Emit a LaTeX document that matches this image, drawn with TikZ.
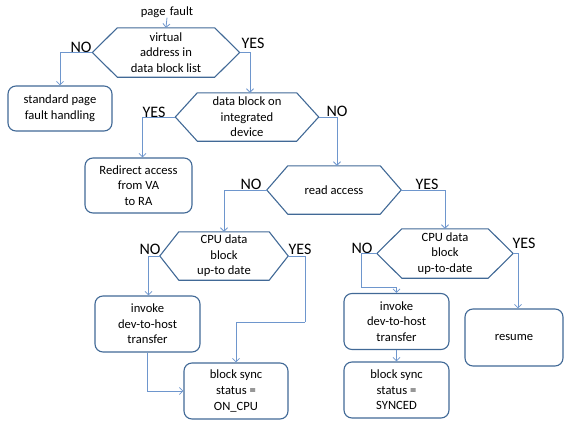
\documentclass[tikz,border=0pt]{standalone}
\usepackage{fontspec}
\setmainfont{Carlito}
\usetikzlibrary{arrows.meta}
\definecolor{hexblue}{RGB}{65,105,150}
\definecolor{linkblue}{RGB}{110,150,205}
\tikzset{
  txt/.style={font=\fontsize{12.6}{15.6}\selectfont, align=center, inner sep=0pt},
  boxnode/.style={txt, draw=hexblue, line width=1.1pt, rounded corners=8pt},
  yn/.style={font=\fontsize{16}{18}\selectfont, inner sep=0pt},
  link/.style={draw=linkblue, line width=0.8pt, -{Straight Barb[length=3.5pt,width=7pt]}},
  plain/.style={draw=linkblue, line width=0.8pt},
  hexline/.style={draw=hexblue, line width=1.1pt, line join=miter}
}
\newcommand{\hexdraw}[2]{%
  \draw[hexline] (#1.west) -- ([xshift=#2pt]#1.west |- #1.north) -- ([xshift=-#2pt]#1.east |- #1.north) -- (#1.east) -- ([xshift=-#2pt]#1.east |- #1.south) -- ([xshift=#2pt]#1.west |- #1.south) -- cycle;}
\begin{document}
\begin{tikzpicture}[x=1pt,y=-1pt]
\useasboundingbox (0,0) rectangle (566,421);
% title
\node[txt] (pf) at (167,12) {page\,\,fault};
% hexagons
\node[txt, minimum width=147pt, minimum height=49pt] (h1) at (166,52.5) {virtual\\address in\\data block list};
\node[txt, minimum width=143pt, minimum height=48pt] (h2) at (247,117) {data block on\\integrated\\device};
\node[txt, minimum width=134pt, minimum height=48pt] (h3) at (334,190) {read access};
\node[txt, minimum width=128pt, minimum height=48pt] (h4) at (224,256) {CPU data\\block\\up-to date};
\node[txt, minimum width=136pt, minimum height=49pt] (h5) at (445,253.5) {CPU data\\block\\up-to-date};
\hexdraw{h1}{25}
\hexdraw{h2}{22}
\hexdraw{h3}{21}
\hexdraw{h4}{19}
\hexdraw{h5}{25}
% boxes
\node[boxnode, minimum width=104pt, minimum height=45pt] (std) at (60,108.5) {standard page\\fault handling};
\node[boxnode, minimum width=107pt, minimum height=55pt] (red) at (138.5,185.5) {Redirect access\\from VA\\to RA};
\node[boxnode, minimum width=105pt, minimum height=56pt] (inv1) at (147.5,324) {invoke\\dev-to-host\\transfer};
\node[boxnode, minimum width=104pt, minimum height=56pt] (sync1) at (236,391) {block sync\\status =\\ON\_CPU};
\node[boxnode, minimum width=105pt, minimum height=56pt] (inv2) at (396.5,321.5) {invoke\\dev-to-host\\transfer};
\node[boxnode, minimum width=105pt, minimum height=56pt] (sync2) at (396.5,390) {block sync\\status =\\SYNCED};
\node[boxnode, minimum width=98pt, minimum height=57pt] (res) at (514,337.5) {resume};
% labels
\node[yn] (n1) at (81,47) {NO};
\node[yn] (y1) at (253,43) {YES};
\node[yn] (y2) at (154,112) {YES};
\node[yn] (n2) at (337,111) {NO};
\node[yn] (n3) at (251,184) {NO};
\node[yn] (y3) at (427,184) {YES};
\node[yn] (n4) at (150,249) {NO};
\node[yn] (y4) at (300,249) {YES};
\node[yn] (n5) at (362,248) {NO};
\node[yn] (y5) at (524,243) {YES};
% waypoints
\coordinate (c1) at (305,322);
\coordinate (c2) at (361,287);
% connectors
\draw[link] (pf.south) -- (h1.north);
\draw[link] (h1.west) -| (std.north);
\draw[link] (h1.east) -| ([xshift=3pt]h2.north);
\draw[link] (h2.west) -| ([xshift=4pt]red.north);
\draw[link] (h2.east) -| ([xshift=3pt]h3.north);
\draw[link] (h3.west) -| (h4.north);
\draw[link] (h3.east) -| (h5.north);
\draw[link] (h4.west) -| ([xshift=1pt]inv1.north);
\draw[plain] (h4.east) -| (c1);
\draw[link] (c1) -| (sync1.north);
\draw[link] (inv1.south) |- (sync1.west);
\draw[plain] (h5.west) -| (c2);
\draw[link] (c2) -| (inv2.north);
\draw[link] (inv2.south) -- (sync2.north);
\draw[link] (h5.east) -| ([xshift=4pt]res.north);
\end{tikzpicture}
\end{document}
